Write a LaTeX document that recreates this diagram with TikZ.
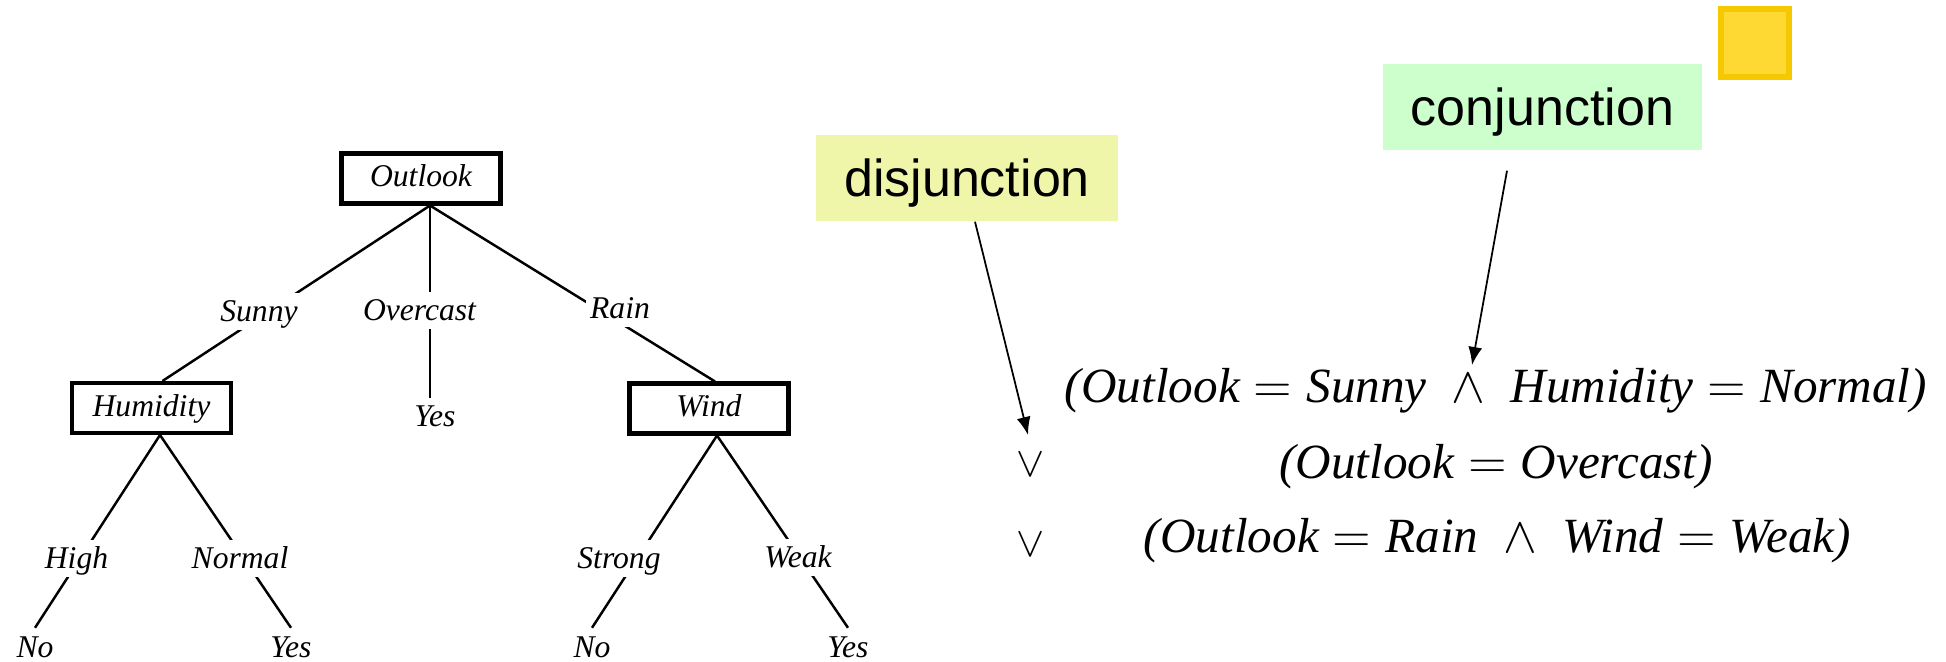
\documentclass[tikz,border=0pt]{standalone}
\usepackage{fontspec}
\setmainfont{Liberation Serif}
\setsansfont{Liberation Sans}
\usepackage{tikz}
\usetikzlibrary{positioning, arrows.meta}

\definecolor{disjfill}{HTML}{EFF6A9}
\definecolor{conjfill}{HTML}{CCFFCC}
\definecolor{stickyfill}{HTML}{FFD933}
\definecolor{stickydraw}{HTML}{F5C800}

\begin{document}
\begin{tikzpicture}[>={Latex[length=1.8mm,width=1.4mm]},
  attr/.style={draw, line width=1.15pt, minimum width=1.59cm, minimum height=0.50cm, inner sep=0pt, text height=0.22cm, text depth=0.05cm, font=\fontsize{9}{10}\selectfont\itshape},
  val/.style={fill=white, inner xsep=0.04cm, inner ysep=0.045cm, text height=0.24cm, text depth=0.04cm, font=\fontsize{9}{10}\selectfont\itshape},
  branch/.style={line width=0.7pt},
  notebox/.style={minimum height=0.86cm, inner sep=0pt, text height=0.52cm, text depth=0.15cm, font=\sffamily\fontsize{14.8}{18}\selectfont},
  formula/.style={anchor=base, font=\fontsize{14}{16}\selectfont\itshape}]
  \useasboundingbox (0,0) rectangle (19.46,-6.62);

  % decision tree
  \node[attr] (outlook) at (4.21,-1.785) {Outlook};
  \node[attr] (humidity) at (1.515,-4.08) {Humidity};
  \node[attr] (wind) at (7.09,-4.085) {Wind};
  \node[val] (yes1) at (4.35,-4.17) {Yes};
  \node[val] (no1) at (0.35,-6.47) {No};
  \node[val] (yes2) at (2.91,-6.47) {Yes};
  \node[val] (no2) at (5.92,-6.47) {No};
  \node[val] (yes3) at (8.48,-6.47) {Yes};

  \draw[branch] ([xshift=0.9mm]outlook.south) -- ([xshift=1.1mm]humidity.north);
  \draw[branch] ([xshift=0.9mm]outlook.south) -- ([xshift=0.9mm]outlook.south |- yes1.north);
  \draw[branch] ([xshift=0.9mm]outlook.south) -- ([xshift=0.6mm]wind.north);
  \draw[branch] ([xshift=0.85mm]humidity.south) -- (no1.north);
  \draw[branch] ([xshift=0.85mm]humidity.south) -- (yes2.north);
  \draw[branch] ([xshift=0.8mm]wind.south) -- (no2.north);
  \draw[branch] ([xshift=0.8mm]wind.south) -- (yes3.north);

  \node[val] (sunny) at (2.59,-3.115) {Sunny};
  \node[val] (overcast) at (4.195,-3.11) {Overcast};
  \node[val] (rain) at (6.20,-3.085) {Rain};
  \node[val] (high) at (0.765,-5.585) {High};
  \node[val] (normal) at (2.40,-5.585) {Normal};
  \node[val] (strong) at (6.19,-5.585) {Strong};
  \node[val] (weak) at (7.98,-5.58) {Weak};

  % rules read off the tree
  \node[notebox, fill=disjfill, minimum width=3.02cm] (disj) at (9.67,-1.78) {disjunction};
  \node[notebox, fill=conjfill, minimum width=3.19cm] (conj) at (15.425,-1.07) {conjunction};
  \node[draw=stickydraw, fill=stickyfill, line width=0.6mm, minimum size=0.68cm] (sticky) at (17.55,-0.435) {};

  \node[formula] (term1) at (14.96,-4.03) {(Outlook${}={}$Sunny\hspace{0.25cm}$\wedge$\hspace{0.25cm}Humidity${}={}$Normal)};
  \node[formula] (term2) at (14.96,-4.79) {(Outlook${}={}$Overcast)};
  \node[formula] (term3) at (14.975,-5.53) {(Outlook${}={}$Rain\hspace{0.25cm}$\wedge$\hspace{0.25cm}Wind${}={}$Weak)};
  \node[font=\fontsize{12}{14}\selectfont] (or1) at (10.31,-4.65) {$\vee$};
  \node[font=\fontsize{12}{14}\selectfont] (or2) at (10.31,-5.445) {$\vee$};

  \coordinate (disjtip) at (10.28,-4.35);
  \coordinate (conjtip) at (14.72,-3.65);
  \draw[->, line width=0.5pt] ([xshift=0.8mm]disj.south) -- (disjtip);
  \draw[->, line width=0.5pt] ([xshift=-3.55mm,yshift=-2mm]conj.south) -- (conjtip);
\end{tikzpicture}
\end{document}
